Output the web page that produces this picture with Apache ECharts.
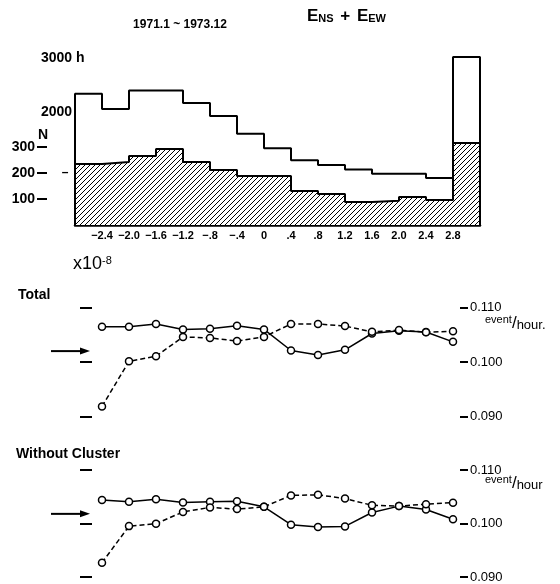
<!DOCTYPE html>
<html><head><meta charset="utf-8">
<script src="https://cdn.jsdelivr.net/npm/echarts@6/dist/echarts.min.js"></script>
<style>html,body{margin:0;padding:0;background:#fff}#c{width:560px;height:584px}</style>
</head><body><div id="c"></div>
<script>
// ---- data ----
const binEdges = [-2.8,-2.4,-2.0,-1.6,-1.2,-0.8,-0.4,0,0.4,0.8,1.2,1.6,2.0,2.4,2.8,3.2];
const hoursPerBin = [2430,2150,2490,2490,2260,2020,1690,1420,1200,1110,1030,950,950,870,3110];
const eventsPerBin = [235,242,265,292,242,212,188,188,131,119,88,93,108,96,315];
const xTickValues = [-2.4,-2.0,-1.6,-1.2,-0.8,-0.4,0,0.4,0.8,1.2,1.6,2.0,2.4,2.8];
const xTickLabels = ['−2.4','−2.0','−1.6','−1.2','−.8','−.4','0','.4','.8','1.2','1.6','2.0','2.4','2.8'];
const hourTicks = [2000,3000];
const countTicks = [100,200,300];
const totalSolid = [0.10648,0.10648,0.10697,0.10598,0.10609,0.10666,0.10598,0.10211,0.10130,0.10224,0.10523,0.10572,0.10550,0.10370];
const totalDashed = [0.09185,0.10013,0.10106,0.10461,0.10442,0.10385,0.10461,0.10697,0.10697,0.10659,0.10554,0.10585,0.10547,0.10565];
const noClusterSolid = [0.10439,0.10408,0.10453,0.10394,0.10408,0.10415,0.10312,0.09978,0.09933,0.09946,0.10206,0.10325,0.10262,0.10079];
const noClusterDashed = [0.09267,0.09951,0.09996,0.10217,0.10301,0.10269,0.10312,0.10525,0.10536,0.10467,0.10340,0.10325,0.10362,0.10389];
const meanRate = [0.1020, 0.1018];

const FONT = 'Liberation Sans, Arial, sans-serif';

function stepData(vals){
  const d = [[binEdges[0],0]];
  for (let i=0;i<vals.length;i++) d.push([binEdges[i], vals[i]]);
  d.push([binEdges[binEdges.length-1], vals[vals.length-1]]);
  d.push([binEdges[binEdges.length-1], 0]);
  return d;
}
function pairs(vals){ return vals.map((v,i)=>[xTickValues[i], v]); }

// hatch pattern
const pc = document.createElement('canvas');
pc.width = 5; pc.height = 5;
const g = pc.getContext('2d');
g.fillStyle = '#fff'; g.fillRect(0,0,5,5);
g.strokeStyle = '#000'; g.lineWidth = 1;
g.beginPath();
g.moveTo(-1,6); g.lineTo(6,-1);
g.moveTo(-1,1); g.lineTo(1,-1);
g.moveTo(4,6); g.lineTo(6,4);
g.stroke();

const chart = echarts.init(document.getElementById('c'), null, {renderer:'canvas'});

// lower panels: same x scale as histogram (67.5 px per unit), plot area ends at x=460
const lowerXMax = -2.8 + 385/67.5;
const hiddenX = (gi)=>({gridIndex:gi, type:'value', min:-2.8, max:lowerXMax, show:false});
const rateRight = (gi)=>({gridIndex:gi, type:'value', min:0.09, max:0.11, interval:0.01, position:'right',
  axisLine:{show:false, onZero:false}, splitLine:{show:false},
  axisTick:{show:true, length:8, lineStyle:{color:'#000', width:2}},
  axisLabel:{margin:10, color:'#000', fontSize:13, fontFamily:FONT, formatter:v=>v.toFixed(3)}});
const rateLeft = (gi)=>({gridIndex:gi, type:'value', min:0.09, max:0.11, interval:0.01, position:'left', offset:-17,
  axisLine:{show:false, onZero:false}, splitLine:{show:false}, axisLabel:{show:false},
  axisTick:{show:true, length:12, lineStyle:{color:'#000', width:2}}});
const rateSeries = (vals, xi, yi, dashed)=>({type:'line', xAxisIndex:xi, yAxisIndex:yi, data:pairs(vals),
  symbol:'circle', symbolSize:7, showSymbol:true, clip:false,
  lineStyle:{color:'#000', width:1.5, type: dashed ? [5,3] : 'solid'},
  itemStyle:{color:'#fff', borderColor:'#000', borderWidth:1.5}, z:3});

chart.setOption({
  animation:false,
  backgroundColor:'#fff',
  textStyle:{fontFamily:FONT},
  grid:[
    {left:75, right:80, top:52.2, height:172.8},
    {left:75, right:100, top:307.5, height:109},
    {left:75, right:100, top:470, height:107}
  ],
  xAxis:[
    {gridIndex:0, type:'value', min:-2.8, max:3.2, interval:0.4,
      axisLine:{lineStyle:{color:'#000', width:2.5}}, axisTick:{show:false}, splitLine:{show:false},
      axisLabel:{customValues:xTickValues, color:'#000', fontSize:11, fontWeight:'bold', fontFamily:FONT, margin:5,
        formatter:v=>{const i=xTickValues.findIndex(t=>Math.abs(t-v)<1e-6); return i<0?'':xTickLabels[i];}}},
    hiddenX(1), hiddenX(2)
  ],
  yAxis:[
    {gridIndex:0, type:'value', min:0, max:3200, position:'left',
      axisLine:{show:false, onZero:false}, axisTick:{show:false}, splitLine:{show:false},
      axisLabel:{customValues:hourTicks, align:'left', margin:34, color:'#000', fontSize:14, fontWeight:'bold', fontFamily:FONT,
        verticalAlign:'bottom', lineHeight:10, formatter:v=> v===3000 ? '3000 h' : String(v)}},
    {gridIndex:0, type:'value', min:0, max:664.6, position:'left', offset:28,
      axisLine:{show:false, onZero:false}, splitLine:{show:false},
      axisTick:{show:true, customValues:countTicks, length:10, lineStyle:{color:'#000', width:2}},
      axisLabel:{customValues:countTicks, margin:12, color:'#000', fontSize:14, fontWeight:'bold', fontFamily:FONT}},
    rateRight(1), rateLeft(1), rateRight(2), rateLeft(2)
  ],
  series:[
    {type:'line', xAxisIndex:0, yAxisIndex:1, step:'end', data:stepData(eventsPerBin), showSymbol:false,
      lineStyle:{color:'#000', width:2}, areaStyle:{color:{image:pc, repeat:'repeat'}, opacity:1}, z:2},
    {type:'line', xAxisIndex:0, yAxisIndex:0, step:'end', data:stepData(hoursPerBin), showSymbol:false,
      lineStyle:{color:'#000', width:2}, z:3},
    rateSeries(totalSolid,1,2,false),
    rateSeries(totalDashed,1,2,true),
    rateSeries(noClusterSolid,2,4,false),
    rateSeries(noClusterDashed,2,4,true)
  ]
});

function arrow(y){
  return {type:'group', children:[
    {type:'line', shape:{x1:51, y1:y, x2:82, y2:y}, style:{stroke:'#000', lineWidth:2}},
    {type:'polygon', shape:{points:[[90,y],[80,y-3.5],[80,y+3.5]]}, style:{fill:'#000'}}
  ]};
}
const yA = chart.convertToPixel({yAxisIndex:2}, meanRate[0]);
const yB = chart.convertToPixel({yAxisIndex:4}, meanRate[1]);
const slashRich = {e:{fontSize:11, fontFamily:FONT, fill:'#000', verticalAlign:'top'}, l:{fontSize:17, fontFamily:FONT, fill:'#000'},
          h:{fontSize:13, fontFamily:FONT, fill:'#000', verticalAlign:'bottom'}};

chart.setOption({graphic:[
  {type:'text', x:180, y:25, style:{text:'1971.1 ~ 1973.12', fill:'#000', font:'bold 12px '+FONT, align:'center', verticalAlign:'middle'}},
  {type:'text', x:307, y:16, style:{text:'{b|E}{s|NS}  {b|+}  {b|E}{s|EW}', verticalAlign:'middle', fill:'#000',
    rich:{b:{fontSize:17, fontWeight:'bold', fontFamily:FONT, fill:'#000', verticalAlign:'bottom'},
          s:{fontSize:11, fontWeight:'bold', fontFamily:FONT, fill:'#000', verticalAlign:'bottom'}}}},
  {type:'text', x:43, y:135, style:{text:'N', fill:'#000', font:'bold 14px '+FONT, align:'center', verticalAlign:'middle'}},
  {type:'text', x:65, y:173, style:{text:'–', fill:'#000', font:'bold 12px '+FONT, align:'center', verticalAlign:'middle'}},
  {type:'text', x:73, y:264, style:{text:'{b|x10}{s|-8}', verticalAlign:'middle', fill:'#000',
    rich:{b:{fontSize:18, fontFamily:FONT, fill:'#000', verticalAlign:'bottom'},
          s:{fontSize:11, fontFamily:FONT, fill:'#000', verticalAlign:'top'}}}},
  {type:'text', x:18, y:295, style:{text:'Total', fill:'#000', font:'bold 14px '+FONT, verticalAlign:'middle'}},
  {type:'text', x:16, y:454, style:{text:'Without Cluster', fill:'#000', font:'bold 14px '+FONT, verticalAlign:'middle'}},
  {type:'text', x:485, y:323, style:{text:'{e|event}{l|/}{h|hour.}', verticalAlign:'middle', fill:'#000', rich:slashRich}},
  {type:'text', x:485, y:483, style:{text:'{e|event}{l|/}{h|hour}', verticalAlign:'middle', fill:'#000', rich:slashRich}},
  arrow(yA), arrow(yB)
]});
</script></body></html>
